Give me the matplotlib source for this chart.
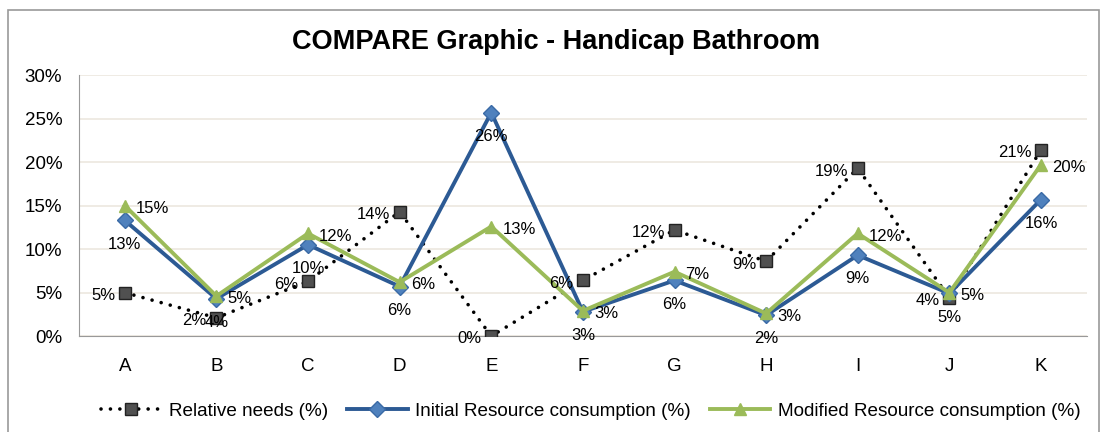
import matplotlib
matplotlib.use("Agg")
import matplotlib.pyplot as plt
from matplotlib.patches import Rectangle
from matplotlib.ticker import FuncFormatter

plt.rcParams["font.family"] = ["Liberation Sans", "DejaVu Sans"]

# --- Dados ---
categorias = ["A", "B", "C", "D", "E", "F", "G", "H", "I", "J", "K"]
relative_needs = [5.0, 2.1, 6.3, 14.3, 0.0, 6.4, 12.2, 8.6, 19.3, 4.4, 21.4]
initial_cons = [13.3, 4.3, 10.5, 5.7, 25.7, 2.8, 6.4, 2.4, 9.3, 4.9, 15.7]
modified_cons = [15.0, 4.6, 11.8, 6.2, 12.6, 2.9, 7.4, 2.6, 11.8, 5.0, 19.7]
yticks = [0, 5, 10, 15, 20, 25, 30]

fig = plt.figure(figsize=(11, 4.32), dpi=100)
fig.patches.append(Rectangle((0.007, -0.01), 0.992, 0.987, transform=fig.transFigure,
                             fill=False, edgecolor="#9a9a9a", linewidth=1.2))

ax = fig.add_axes([0.0718, 0.222, 0.9162, 0.604])
x = list(range(len(categorias)))

ax.plot(x, relative_needs, linestyle=(0, (0.01, 2.6)), color="black", linewidth=2.6,
        dash_capstyle="round", marker="s", markersize=8, markerfacecolor="#505050",
        markeredgecolor="#222222", label="Relative needs (%)", zorder=3)
ax.plot(x, initial_cons, color="#2C5A94", linewidth=2.8,
        marker="D", markersize=8, markerfacecolor="#4F81BD", markeredgecolor="#3A6AA6",
        label="Initial Resource consumption (%)", zorder=4)
ax.plot(x, modified_cons, color="#9BBB59", linewidth=2.8,
        marker="^", markersize=9, markerfacecolor="#9BBB59", markeredgecolor="#9BBB59",
        label="Modified Resource consumption (%)", zorder=5)

# rótulos
for xi, v in zip(x, relative_needs):
    ax.annotate(f"{v:.0f}%", (xi, v), xytext=(-7, -2), textcoords="offset points",
                ha="right", va="center", fontsize=12, zorder=6)
for xi, v in zip(x, initial_cons):
    ax.annotate(f"{v:.0f}%", (xi, v), xytext=(0, -17), textcoords="offset points",
                ha="center", va="center", fontsize=12, zorder=6)
for xi, v in zip(x, modified_cons):
    ax.annotate(f"{v:.0f}%", (xi, v), xytext=(8, -2), textcoords="offset points",
                ha="left", va="center", fontsize=12, zorder=6)

ax.set_xlim(-0.5, len(categorias) - 0.5)
ax.set_ylim(0, 30)
ax.set_yticks(yticks)
ax.yaxis.set_major_formatter(FuncFormatter(lambda v, p: f"{v:.0f}%"))
ax.set_xticks(x)
ax.set_xticklabels(categorias)
ax.tick_params(axis="both", length=0, labelsize=13.5)
ax.tick_params(axis="y", pad=12)
ax.tick_params(axis="x", pad=16)
ax.grid(axis="y", color="#ECE8DF", linewidth=1.2)
ax.set_axisbelow(True)
for s in ["top", "right"]:
    ax.spines[s].set_visible(False)
ax.spines["left"].set_color("#999999")
ax.spines["bottom"].set_color("#999999")

fig.text(0.505, 0.903, "COMPARE Graphic - Handicap Bathroom", ha="center", va="center",
         fontsize=19.5, fontweight="bold")

fig.legend(loc="center", bbox_to_anchor=(0.537, 0.048), ncol=3, frameon=False,
           fontsize=13.6, handlelength=3.2, columnspacing=1.0, handletextpad=0.4)

plt.savefig("out.png", dpi=100)
plt.close()
